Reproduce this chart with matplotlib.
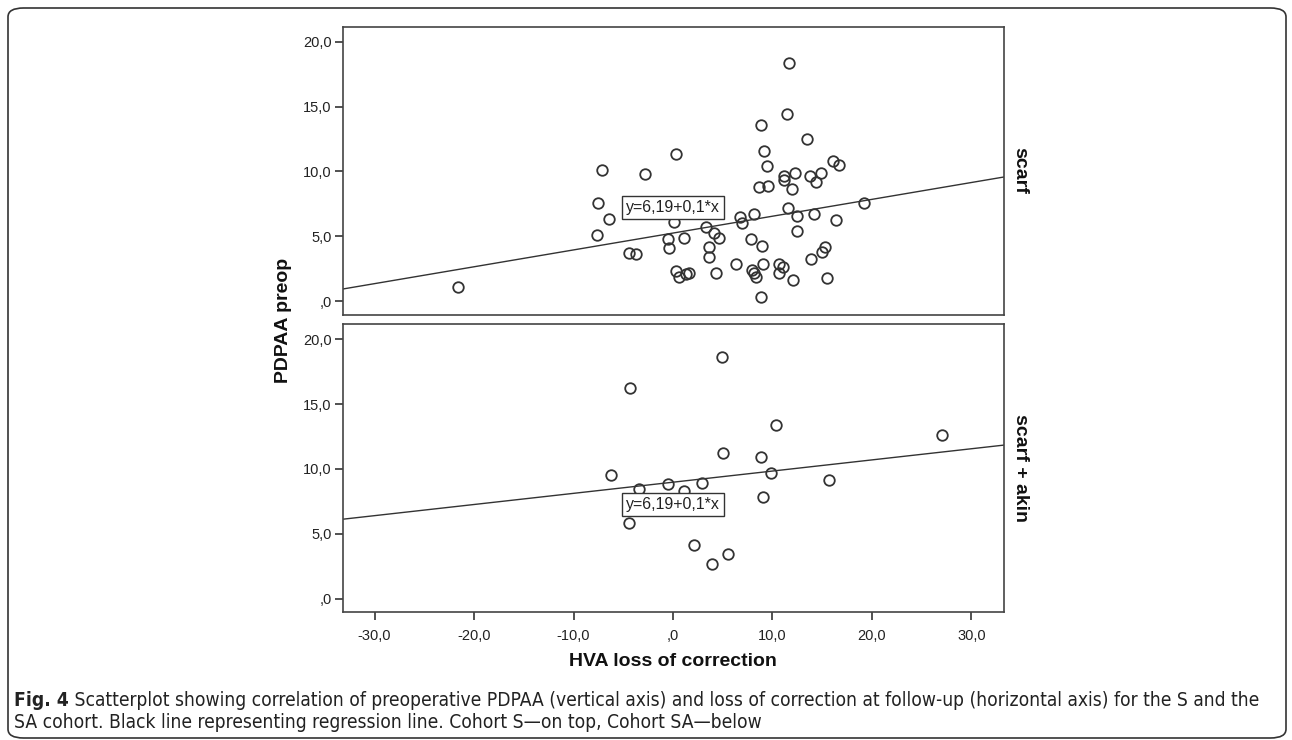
import matplotlib
matplotlib.use("Agg")
import matplotlib.pyplot as plt
import numpy as np
from matplotlib import font_manager
from matplotlib.font_manager import FontProperties
from matplotlib.patches import FancyBboxPatch

# --- data ---
scarf_x = [-7.14, -7.55, -6.44, -7.65, -4.46, -3.75, 0.35, -2.86, 0.10, -0.47,
           -0.37, 1.14, 0.33, 0.57, 1.34, 1.57, 3.27, 4.09, 4.66, 3.58,
           3.58, 4.33, 6.30, 6.77, 6.94, 8.11, 7.81, 8.98, 9.01, 7.95,
           8.18, 8.38, 8.81, 8.88, 9.18, 9.42, 8.61, 9.56, 11.70, 11.43,
           11.13, 11.20, 12.23, 11.97, 11.57, 12.43, 12.43, 10.66, 11.03, 10.69,
           12.07, 13.51, 13.74, 14.35, 14.89, 14.22, 13.91, 15.02, 15.32, 15.49,
           16.06, 16.70, 16.43, 19.21, -21.60]
scarf_y = [10.10, 7.60, 6.37, 5.08, 3.75, 3.66, 11.31, 9.82, 6.10, 4.80,
           4.08, 4.88, 2.30, 1.83, 2.12, 2.16, 5.72, 5.28, 4.90, 4.17,
           3.40, 2.16, 2.89, 6.49, 6.03, 6.72, 4.80, 4.25, 2.89, 2.43,
           2.16, 1.85, 0.31, 13.58, 11.59, 10.41, 8.81, 8.89, 18.35, 14.40,
           9.66, 9.33, 9.89, 8.61, 7.19, 6.57, 5.39, 2.89, 2.63, 2.19,
           1.60, 12.52, 9.66, 9.20, 9.92, 6.72, 3.28, 3.79, 4.17, 1.81,
           10.80, 10.51, 6.29, 7.60, 1.08]

akin_x = [4.93, -4.30, 10.32, 4.99, 8.88, -6.28, 9.89, -0.50, 2.92, -3.39,
          1.14, 9.02, -4.47, 2.11, 5.53, 3.92, 15.72, 27.06]
akin_y = [18.62, 16.21, 13.41, 11.23, 10.94, 9.53, 9.71, 8.81, 8.91, 8.43,
          8.30, 7.83, 5.86, 4.14, 3.42, 2.65, 9.12, 12.61]

# drawn fit lines (intercept, slope) as they appear in each panel
fit_scarf = (5.25, 0.13)
fit_akin = (8.98, 0.086)
fit_label = "y=6,19+0,1*x"

panel_names = ["scarf", "scarf + akin"]
y_ticks = [0, 5, 10, 15, 20]
y_tick_labels = [",0", "5,0", "10,0", "15,0", "20,0"]
x_ticks = [-30, -20, -10, 0, 10, 20, 30]
x_tick_labels = ["-30,0", "-20,0", "-10,0", ",0", "10,0", "20,0", "30,0"]

caption_bold = "Fig. 4"
caption_1 = (" Scatterplot showing correlation of preoperative PDPAA (vertical axis) "
             "and loss of correction at follow-up (horizontal axis) for the S and the")
caption_2 = "SA cohort. Black line representing regression line. Cohort S\u2014on top, Cohort SA\u2014below"

W, H = 1292, 740
plt.rcParams["font.family"] = ["Liberation Sans", "DejaVu Sans"]

fig = plt.figure(figsize=(W / 100, H / 100), dpi=100)

xlim = (-33.2, 33.3)
ylim = (-1.03, 21.18)
dark = "#333333"


def px_box(left, top, right, bottom):
    return [left / W, 1 - bottom / H, (right - left) / W, (bottom - top) / H]


axes = [fig.add_axes(px_box(342.7, 26.5, 1004.3, 314.5)),
        fig.add_axes(px_box(342.7, 324, 1004.3, 612))]
panels = [(scarf_x, scarf_y, fit_scarf), (akin_x, akin_y, fit_akin)]

for i, (ax, (xs, ys, fit)) in enumerate(zip(axes, panels)):
    ax.set_xlim(*xlim)
    ax.set_ylim(*ylim)
    xx = np.array(xlim)
    ax.plot(xx, fit[0] + fit[1] * xx, color=dark, lw=1.0, zorder=2)
    ax.plot(xs, ys, "o", ms=7.6, mfc="none", mec=dark, mew=1.3, zorder=3)
    ax.text(0, 7.25, fit_label, ha="center", va="center", fontsize=11.5,
            color="#222222", zorder=4,
            bbox=dict(boxstyle="square,pad=0.25", fc="white", ec=dark, lw=1.0))
    ax.set_yticks(y_ticks)
    ax.set_yticklabels(y_tick_labels)
    ax.set_xticks(x_ticks)
    if i == 1:
        ax.set_xticklabels(x_tick_labels)
        ax.tick_params(axis="x", length=6, width=1.2, colors=dark,
                       labelsize=10.5, labelcolor="#222222", pad=6)
    else:
        ax.tick_params(axis="x", bottom=False, labelbottom=False)
    ax.tick_params(axis="y", length=6, width=1.2, colors=dark,
                   labelsize=10.5, labelcolor="#222222", pad=2)
    for s in ax.spines.values():
        s.set_color("#444444")
        s.set_linewidth(1.2)
    ax.text(1.024, 0.5, panel_names[i], transform=ax.transAxes, rotation=270,
            ha="center", va="center", fontsize=14, fontweight="bold", color="#111111")

fig.text(283 / W, 1 - 320 / H, "PDPAA preop", rotation=90, ha="center", va="center",
         fontsize=14, fontweight="bold", color="#111111")
fig.text(673 / W, 1 - 662 / H, "HVA loss of correction", ha="center", va="center",
         fontsize=14, fontweight="bold", color="#111111")

# outer frame
frame = FancyBboxPatch((8 / W, 2 / H), (1286 - 8) / W, (732 - 2) / H,
                       boxstyle="round,pad=0,rounding_size=0.012",
                       transform=fig.transFigure, fc="none", ec="#333333", lw=1.2)
fig.patches.append(frame)


# caption: pick condensed sans faces (regular + bold) if installed
def weight_num(w):
    if isinstance(w, int):
        return w
    return {"light": 300, "normal": 400, "regular": 400, "book": 400, "medium": 500,
            "semibold": 600, "demibold": 600, "bold": 700, "heavy": 800,
            "black": 900}.get(str(w).lower(), 400)


cands = [f for f in font_manager.fontManager.ttflist
         if ("Narrow" in f.name or "Condensed" in f.name
             or f.stretch in ("condensed", "semi-condensed"))
         and f.style == "normal"
         and "Mono" not in f.name and "Serif" not in f.name]


def pick(target):
    if not cands:
        return FontProperties(family="Liberation Sans",
                              weight="bold" if target >= 600 else "normal")
    best = min(cands, key=lambda f: abs(weight_num(f.weight) - target))
    return FontProperties(fname=best.fname)


fp_reg = pick(400)
fp_bold = pick(700)

renderer = fig.canvas.get_renderer()
size = 12
t0 = fig.text(14 / W, 1 - 701 / H, caption_bold, fontproperties=fp_bold,
              va="center", ha="left", color="#222222")
t1 = fig.text(0, 1 - 701 / H, caption_1, fontproperties=fp_reg,
              va="center", ha="left", color="#222222")
t0.set_fontsize(size)
t1.set_fontsize(size)
# scale caption to span the same width as the reference line
w_total = t0.get_window_extent(renderer).width + t1.get_window_extent(renderer).width
size = min(size * (1262 - 14) / w_total, 15)
t0.set_fontsize(size)
t1.set_fontsize(size)
w0 = t0.get_window_extent(renderer).width
t1.set_x((14 + w0) / W)
t2 = fig.text(14 / W, 1 - 723 / H, caption_2, fontproperties=fp_reg,
              va="center", ha="left", color="#222222")
t2.set_fontsize(size)

fig.savefig("out.png", dpi=100, facecolor="white")
